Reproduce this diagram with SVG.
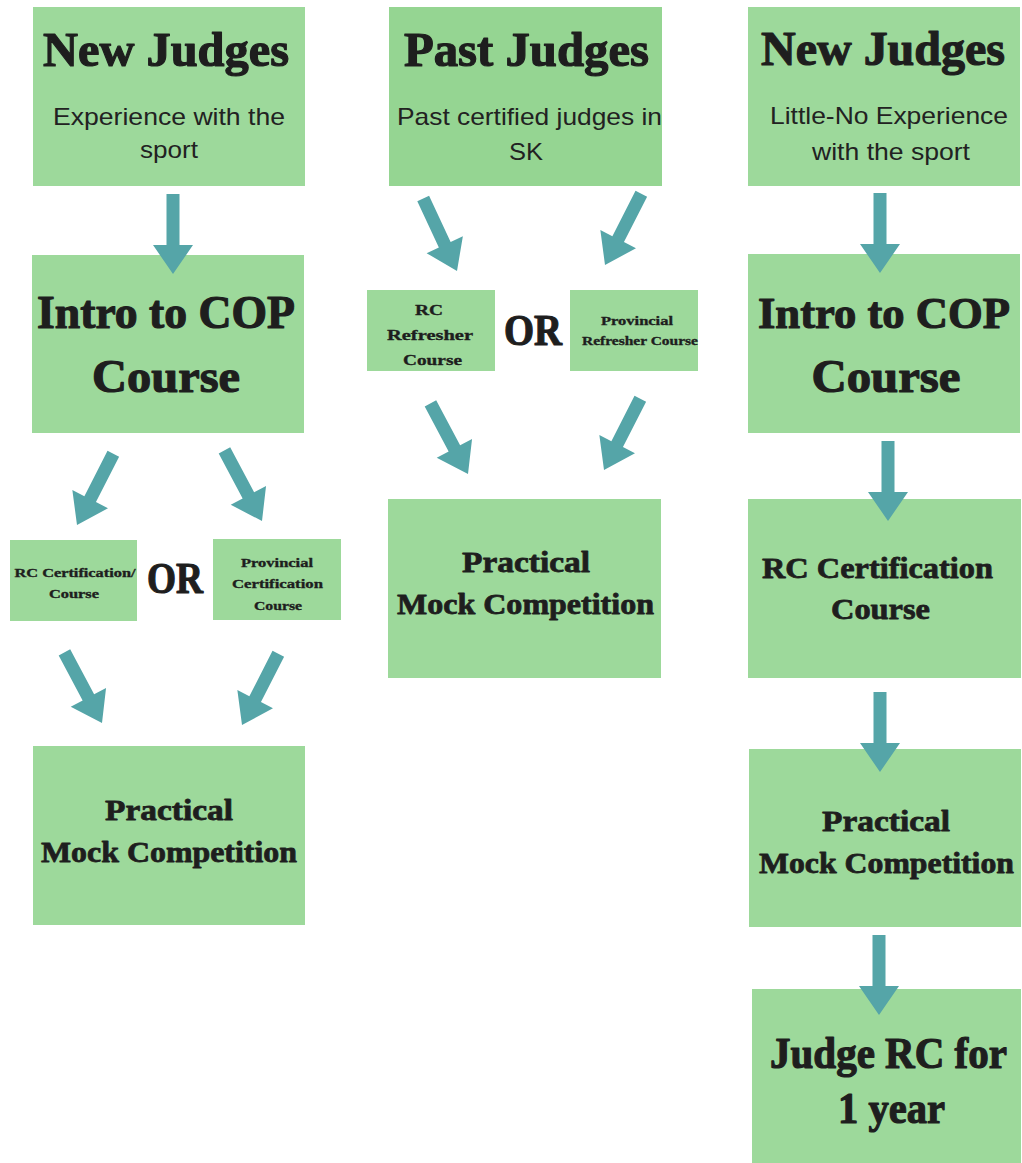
<svg xmlns="http://www.w3.org/2000/svg" width="1022" height="1163" viewBox="0 0 1022 1163">
<style>
.box{fill:#9dd99b}
.box2{fill:#95d592}
.h{font-family:"Liberation Serif","DejaVu Serif",serif;font-weight:bold;fill:#1e1e1e;stroke:#1e1e1e;stroke-width:1.2;stroke-linejoin:round;text-anchor:middle}
.m{stroke-width:0.8}
.t{stroke-width:0.35}
.s{font-family:"Liberation Sans","Arial",sans-serif;fill:#222;text-anchor:middle}
.arr{fill:#55a5a8}
</style>
<defs>
<path id="ar" d="M0,0 L-20,-29 L-6.5,-29 L-6.5,-80 L6.5,-80 L6.5,-29 L20,-29 Z"/>
</defs>
<rect width="1022" height="1163" fill="#ffffff"/>

<g id="a1">
<rect class="box" x="33" y="7" width="272" height="179"/>
<text class="h" x="166" y="66" font-size="48" textLength="246" lengthAdjust="spacingAndGlyphs">New Judges</text>
<text class="s" x="169" y="125" font-size="24" textLength="232" lengthAdjust="spacingAndGlyphs">Experience with the</text>
<text class="s" x="169" y="158" font-size="24" textLength="58" lengthAdjust="spacingAndGlyphs">sport</text>
</g>
<g id="a2">
<rect class="box" x="32" y="255" width="272" height="178"/>
<text class="h" x="166" y="328" font-size="47" textLength="258" lengthAdjust="spacingAndGlyphs">Intro to COP</text>
<text class="h" x="166" y="392" font-size="47" textLength="148" lengthAdjust="spacingAndGlyphs">Course</text>
</g>
<g id="a3">
<rect class="box" x="10" y="540" width="127" height="81"/>
<text class="h t" x="75" y="577" font-size="12" textLength="121" lengthAdjust="spacingAndGlyphs">RC Certification/</text>
<text class="h t" x="74" y="598" font-size="12" textLength="50" lengthAdjust="spacingAndGlyphs">Course</text>
</g>
<g id="or1">
<text class="h" x="175" y="593" font-size="44" textLength="56" lengthAdjust="spacingAndGlyphs">OR</text>
</g>
<g id="a4">
<rect class="box" x="213" y="539" width="128" height="81"/>
<text class="h t" x="277" y="567" font-size="13" textLength="72" lengthAdjust="spacingAndGlyphs">Provincial</text>
<text class="h t" x="277.5" y="588" font-size="13" textLength="91" lengthAdjust="spacingAndGlyphs">Certification</text>
<text class="h t" x="278" y="610" font-size="13" textLength="48" lengthAdjust="spacingAndGlyphs">Course</text>
</g>
<g id="a5">
<rect class="box" x="33" y="746" width="272" height="179"/>
<text class="h m" x="169" y="820" font-size="30" textLength="128" lengthAdjust="spacingAndGlyphs">Practical</text>
<text class="h m" x="169" y="862" font-size="30" textLength="256" lengthAdjust="spacingAndGlyphs">Mock Competition</text>
</g>

<g id="b1">
<rect class="box2" x="389" y="7" width="273" height="179"/>
<text class="h" x="526.5" y="66" font-size="48" textLength="245" lengthAdjust="spacingAndGlyphs">Past Judges</text>
<text class="s" x="529.5" y="125" font-size="24" textLength="265" lengthAdjust="spacingAndGlyphs">Past certified judges in</text>
<text class="s" x="526" y="160" font-size="24" textLength="34" lengthAdjust="spacingAndGlyphs">SK</text>
</g>
<g id="b2">
<rect class="box" x="367" y="290" width="128" height="81"/>
<text class="h t" x="429" y="315" font-size="15" textLength="28" lengthAdjust="spacingAndGlyphs">RC</text>
<text class="h t" x="430" y="340" font-size="15" textLength="86" lengthAdjust="spacingAndGlyphs">Refresher</text>
<text class="h t" x="432.5" y="365" font-size="15" textLength="59" lengthAdjust="spacingAndGlyphs">Course</text>
</g>
<g id="or2">
<text class="h" x="533" y="345" font-size="44" textLength="58" lengthAdjust="spacingAndGlyphs">OR</text>
</g>
<g id="b3">
<rect class="box" x="570" y="290" width="128" height="81"/>
<text class="h t" x="637" y="325" font-size="13" textLength="72" lengthAdjust="spacingAndGlyphs">Provincial</text>
<text class="h t" x="640" y="345" font-size="13" textLength="116" lengthAdjust="spacingAndGlyphs">Refresher Course</text>
</g>
<g id="b4">
<rect class="box" x="388" y="499" width="273" height="179"/>
<text class="h m" x="526" y="572" font-size="30" textLength="128" lengthAdjust="spacingAndGlyphs">Practical</text>
<text class="h m" x="525.5" y="614" font-size="30" textLength="257" lengthAdjust="spacingAndGlyphs">Mock Competition</text>
</g>

<g id="c1">
<rect class="box" x="748" y="7" width="272" height="179"/>
<text class="h" x="883" y="65" font-size="48" textLength="244" lengthAdjust="spacingAndGlyphs">New Judges</text>
<text class="s" x="889" y="124" font-size="24" textLength="238" lengthAdjust="spacingAndGlyphs">Little-No Experience</text>
<text class="s" x="891" y="160" font-size="24" textLength="158" lengthAdjust="spacingAndGlyphs">with the sport</text>
</g>
<g id="c2">
<rect class="box" x="748" y="254" width="272" height="179"/>
<text class="h" x="884" y="328" font-size="45" textLength="252" lengthAdjust="spacingAndGlyphs">Intro to COP</text>
<text class="h" x="886" y="392" font-size="47" textLength="149" lengthAdjust="spacingAndGlyphs">Course</text>
</g>
<g id="c3">
<rect class="box" x="748" y="499" width="273" height="179"/>
<text class="h m" x="877.5" y="578" font-size="30" textLength="231" lengthAdjust="spacingAndGlyphs">RC Certification</text>
<text class="h m" x="880.5" y="619" font-size="30" textLength="99" lengthAdjust="spacingAndGlyphs">Course</text>
</g>
<g id="c4">
<rect class="box" x="749" y="749" width="272" height="178"/>
<text class="h m" x="886" y="831" font-size="30" textLength="128" lengthAdjust="spacingAndGlyphs">Practical</text>
<text class="h m" x="886.5" y="873" font-size="30" textLength="255" lengthAdjust="spacingAndGlyphs">Mock Competition</text>
</g>
<g id="c5">
<rect class="box" x="752" y="989" width="269" height="174"/>
<text class="h" x="888.5" y="1068" font-size="44" textLength="237" lengthAdjust="spacingAndGlyphs">Judge RC for</text>
<text class="h" x="891.5" y="1123" font-size="44" textLength="107" lengthAdjust="spacingAndGlyphs">1 year</text>
</g>

<g id="connectors" class="arr">
<use href="#ar" transform="translate(173,274)"/>
<use href="#ar" transform="translate(77,525) rotate(27)"/>
<use href="#ar" transform="translate(262,521) rotate(-28)"/>
<use href="#ar" transform="translate(102,723) rotate(-28)"/>
<use href="#ar" transform="translate(242,725) rotate(27)"/>
<use href="#ar" transform="translate(457,271) rotate(-25)"/>
<use href="#ar" transform="translate(605,265) rotate(27)"/>
<use href="#ar" transform="translate(468,474) rotate(-28)"/>
<use href="#ar" transform="translate(604,470) rotate(27)"/>
<use href="#ar" transform="translate(880,273)"/>
<use href="#ar" transform="translate(888,521)"/>
<use href="#ar" transform="translate(880,772)"/>
<use href="#ar" transform="translate(879,1015)"/>
</g>
</svg>
